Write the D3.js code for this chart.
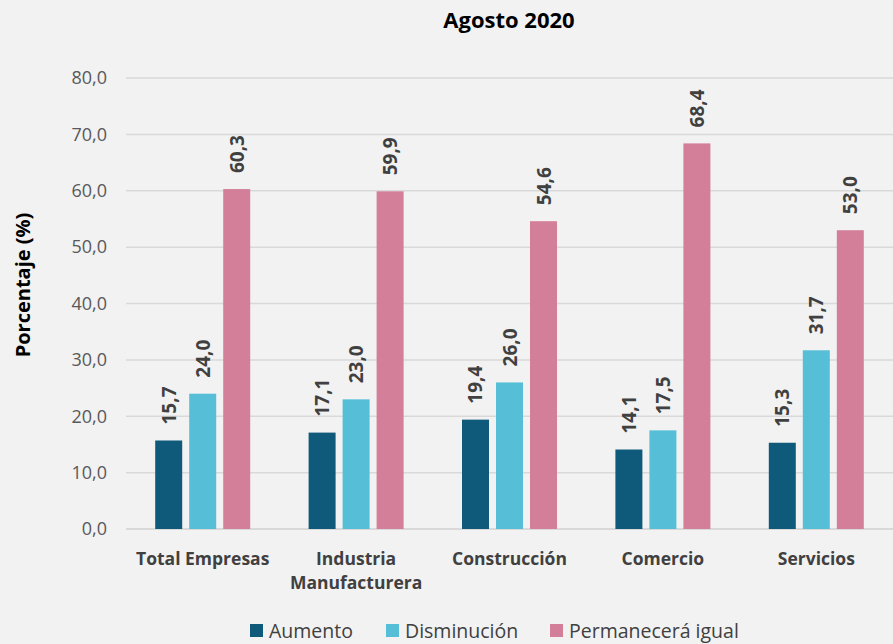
<!DOCTYPE html>
<html>
<head>
<meta charset="utf-8">
<script src="https://cdn.jsdelivr.net/npm/d3@7"></script>
<style>
  body { margin: 0; background: #f2f2f2; }
  text { font-family: "Open Sans", "Noto Sans", sans-serif; }
</style>
</head>
<body>
<div id="chart"></div>
<script>
// data
const categories = ["Total Empresas", "Industria Manufacturera", "Construcción", "Comercio", "Servicios"];
const seriesNames = ["Aumento", "Disminución", "Permanecerá igual"];
const aumento = [15.7, 17.1, 19.4, 14.1, 15.3];
const disminucion = [24.0, 23.0, 26.0, 17.5, 31.7];
const permanecera = [60.3, 59.9, 54.6, 68.4, 53.0];
const yTicks = [0, 10, 20, 30, 40, 50, 60, 70, 80];
const colors = ["#0f5a7a", "#56bfd7", "#d47f99"];

const svgWidth = 893, svgHeight = 644;
const margin = {top: 78, right: 0, bottom: 115, left: 126};
const width = svgWidth - margin.left - margin.right;
const height = svgHeight - margin.top - margin.bottom;

const svg = d3.select("#chart").append("svg")
  .attr("width", svgWidth)
  .attr("height", svgHeight);

svg.append("rect").attr("width", svgWidth).attr("height", svgHeight).attr("fill", "#f2f2f2");

const g = svg.append("g").attr("transform", `translate(${margin.left},${margin.top})`);

const x0 = d3.scaleBand().domain(categories).range([0, width]);
const x1 = d3.scaleBand().domain(seriesNames).range([0, 95]).paddingInner(0.206).paddingOuter(0);
const y = d3.scaleLinear().domain([0, 80]).range([height, 0]);

// gridlines
g.append("g").selectAll("line").data(yTicks).enter().append("line")
  .attr("x1", 0).attr("x2", width)
  .attr("y1", d => y(d)).attr("y2", d => y(d))
  .attr("stroke", d => d === 0 ? "#d0d0d0" : "#d9d9d9")
  .attr("stroke-width", 1.5);

// y axis
const yAxis = g.append("g")
  .call(d3.axisLeft(y).tickValues(yTicks).tickSize(0).tickPadding(19)
    .tickFormat(d => d3.format(".1f")(d).replace(".", ",")));
yAxis.select(".domain").remove();
yAxis.selectAll("text").attr("font-size", "18px").attr("fill", "#595959")
  .style("font-family", "'Open Sans', sans-serif");

// bars
const rows = categories.map((c, i) => ({
  cat: c,
  vals: [aumento[i], disminucion[i], permanecera[i]]
}));

const groups = g.selectAll(".grp").data(rows).enter().append("g")
  .attr("transform", d => `translate(${x0(d.cat) + x0.bandwidth() / 2 - 47.5},0)`);

groups.selectAll("rect").data(d => d.vals.map((v, j) => ({v, s: seriesNames[j], j})))
  .enter().append("rect")
  .attr("x", d => x1(d.s))
  .attr("width", x1.bandwidth())
  .attr("y", d => y(d.v))
  .attr("height", d => height - y(d.v))
  .attr("fill", d => colors[d.j]);

groups.selectAll("text").data(d => d.vals.map((v, j) => ({v, s: seriesNames[j], j})))
  .enter().append("text")
  .attr("transform", d => `translate(${x1(d.s) + x1.bandwidth() / 2},${y(d.v) - 16}) rotate(-90)`)
  .attr("dominant-baseline", "central")
  .attr("text-anchor", "start")
  .attr("font-size", "19px")
  .attr("font-weight", "bold")
  .attr("fill", "#404040")
  .text(d => d3.format(".1f")(d.v).replace(".", ","));

// x labels
const xl = g.append("g").selectAll("text").data(categories).enter().append("text")
  .attr("x", d => x0(d) + x0.bandwidth() / 2)
  .attr("y", height + 36)
  .attr("text-anchor", "middle")
  .attr("font-size", "17.5px")
  .attr("font-weight", "bold")
  .attr("fill", "#404040");
xl.each(function(d) {
  const parts = d === "Industria Manufacturera" ? ["Industria", "Manufacturera"] : [d];
  const t = d3.select(this);
  parts.forEach((p, k) => {
    t.append("tspan").attr("x", x0(d) + x0.bandwidth() / 2).attr("dy", k === 0 ? 0 : 24).text(p);
  });
});

// title
svg.append("text")
  .attr("x", 509).attr("y", 28)
  .attr("text-anchor", "middle")
  .attr("font-size", "22px").attr("font-weight", "bold").attr("fill", "#000")
  .text("Agosto 2020");

// y label
svg.append("text")
  .attr("transform", `translate(30,285) rotate(-90)`)
  .attr("text-anchor", "middle")
  .attr("font-size", "20px").attr("font-weight", "bold").attr("fill", "#000")
  .text("Porcentaje (%)");

// legend
const legendX = [250, 386, 550];
const leg = svg.append("g").selectAll("g").data(seriesNames).enter().append("g")
  .attr("transform", (d, i) => `translate(${legendX[i]},624)`);
leg.append("rect").attr("width", 13).attr("height", 13).attr("fill", (d, i) => colors[i]);
leg.append("text").attr("x", 19).attr("y", 13.5)
  .attr("font-size", "19.5px").attr("fill", "#404040")
  .text(d => d);
</script>
</body>
</html>
